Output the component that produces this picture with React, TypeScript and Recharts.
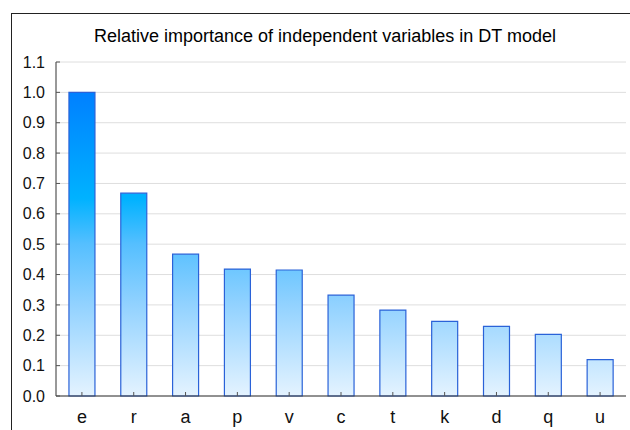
import { Bar, BarChart, CartesianGrid, XAxis, YAxis } from "recharts"

const categories = ["e", "r", "a", "p", "v", "c", "t", "k", "d", "q", "u"]
const importance = [1.0, 0.668, 0.467, 0.418, 0.415, 0.332, 0.283, 0.246, 0.229, 0.203, 0.12]
const yTicks = [0, 0.1, 0.2, 0.3, 0.4, 0.5, 0.6, 0.7, 0.8, 0.9, 1.0, 1.1]

const data = categories.map((name, i) => ({ name, value: importance[i] }))

const FONT = "'Liberation Sans', Arial, sans-serif"

export default function App() {
  return (
    <div
      style={{
        position: "absolute",
        left: 0,
        top: 0,
        width: 630,
        height: 430,
        overflow: "hidden",
        background: "#fff",
        fontFamily: FONT,
      }}
    >
      <div
        style={{
          position: "absolute",
          left: 11,
          top: 13,
          width: 700,
          height: 500,
          border: "1px solid #222",
        }}
      />
      <div
        style={{
          position: "absolute",
          left: 0,
          width: 650,
          top: 26,
          textAlign: "center",
          fontSize: 18,
          color: "#000",
        }}
      >
        Relative importance of independent variables in DT model
      </div>
      <BarChart
        width={630}
        height={430}
        data={data}
        margin={{ top: 62, right: 4, bottom: 0, left: 0 }}
        barCategoryGap="25%"
        style={{ position: "absolute", left: 0, top: 0 }}
      >
        <defs>
          <linearGradient
            id="barFill"
            gradientUnits="userSpaceOnUse"
            x1="0"
            y1="92"
            x2="0"
            y2="396"
          >
            <stop offset="0" stopColor="#0080ff" />
            <stop offset="0.35" stopColor="#00b2ff" />
            <stop offset="0.5" stopColor="#55bfff" />
            <stop offset="0.7" stopColor="#92d2ff" />
            <stop offset="1" stopColor="#e4f3ff" />
          </linearGradient>
        </defs>
        <CartesianGrid vertical={false} stroke="#dedede" />
        <XAxis
          dataKey="name"
          height={34}
          interval={0}
          tickSize={-4}
          tickMargin={18}
          axisLine={{ stroke: "#333" }}
          tickLine={{ stroke: "#555" }}
          tick={{ fontSize: 18, fill: "#111", fontFamily: FONT }}
        />
        <XAxis
          dataKey="name"
          xAxisId="top"
          orientation="top"
          height={0}
          interval={0}
          tickSize={-4}
          tick={false}
          axisLine={{ stroke: "#888" }}
          tickLine={{ stroke: "#666" }}
        />
        <YAxis
          width={56}
          domain={[0, 1.1]}
          ticks={yTicks}
          interval={0}
          tickSize={-4}
          tickMargin={15}
          tickFormatter={(v: number) => v.toFixed(1)}
          axisLine={{ stroke: "#333" }}
          tickLine={{ stroke: "#555" }}
          tick={{ fontSize: 16, fill: "#111", fontFamily: FONT }}
        />
        <YAxis
          yAxisId="r"
          orientation="right"
          width={0}
          domain={[0, 1.1]}
          ticks={yTicks}
          interval={0}
          tickSize={-4}
          tick={false}
          axisLine={{ stroke: "#888" }}
          tickLine={{ stroke: "#444" }}
        />
        <Bar
          dataKey="value"
          fill="url(#barFill)"
          stroke="#2a62d8"
          strokeWidth={1.2}
          isAnimationActive={false}
        />
      </BarChart>
    </div>
  )
}
